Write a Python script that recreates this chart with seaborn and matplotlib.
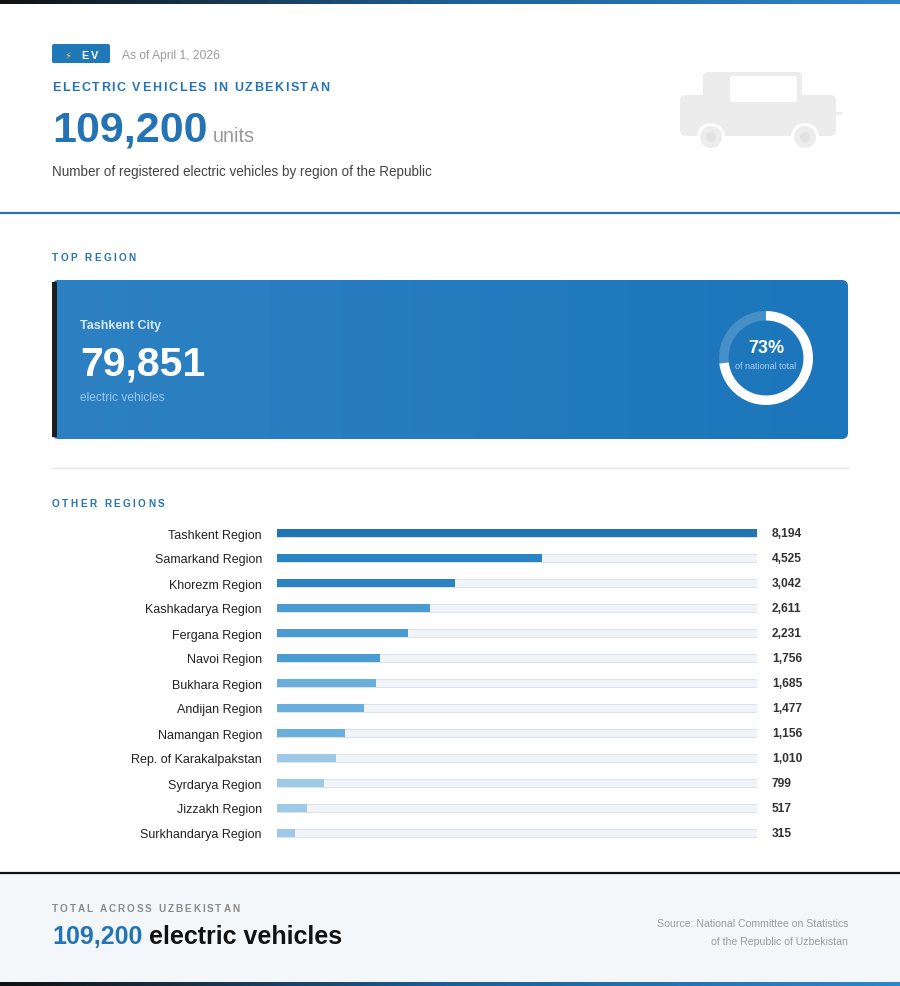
import numpy as np
import pandas as pd
import matplotlib
matplotlib.use('agg')
import matplotlib.pyplot as plt
import seaborn as sns
from matplotlib.patches import FancyBboxPatch, Rectangle, Circle
from matplotlib.colors import LinearSegmentedColormap

# data
regions = ['Tashkent Region', 'Samarkand Region', 'Khorezm Region', 'Kashkadarya Region',
           'Fergana Region', 'Navoi Region', 'Bukhara Region', 'Andijan Region',
           'Namangan Region', 'Rep. of Karakalpakstan', 'Syrdarya Region',
           'Jizzakh Region', 'Surkhandarya Region']
vehicles = [8194, 4525, 3042, 2611, 2231, 1756, 1685, 1477, 1156, 1010, 799, 517, 315]
bar_colors = ['#1f74b4', '#2a84c3', '#2a84c3', '#4a9bd1', '#4a9bd1', '#4a9bd1',
              '#6aaedc', '#6aaedc', '#6aaedc', '#9fcae7', '#9fcae7', '#9fcae7', '#9fcae7']
top_region = 'Tashkent City'
top_value = 79851
total = 109200

BLUE = '#2474b5'

sns.set_theme(style='white')
plt.rcParams['font.family'] = ['Liberation Sans', 'DejaVu Sans']

W, H = 900, 987
fig = plt.figure(figsize=(W / 100, H / 100), dpi=100)
fig.patch.set_facecolor('white')

bg = fig.add_axes([0, 0, 1, 1], zorder=0)
bg.set_xlim(0, W)
bg.set_ylim(H, 0)
bg.axis('off')

renderer = fig.canvas.get_renderer()


def px(v):
    return v * 0.72


def spaced(x, y, s, spacing, **kw):
    # letter-spaced caps, one glyph at a time
    for ch in s:
        t = bg.text(x, y, ch, ha='left', **kw)
        x += t.get_window_extent(renderer).width + spacing
    return x


def text_w(x, y, s, **kw):
    t = bg.text(x, y, s, ha='left', **kw)
    return x + t.get_window_extent(renderer).width


# top / bottom gradient strips
grad = LinearSegmentedColormap.from_list('g', ['#111111', '#1e5f94', '#2f86c8'])
strip = np.linspace(0, 1, 256).reshape(1, -1)
bg.imshow(strip, cmap=grad, extent=[0, W, 4.5, 0], aspect='auto', zorder=1,
          interpolation='bilinear')
bg.imshow(strip, cmap=grad, extent=[0, W, H, H - 4.5], aspect='auto', zorder=1,
          interpolation='bilinear')

# header
bg.add_patch(FancyBboxPatch((52, 45), 58, 19, boxstyle='round,pad=0,rounding_size=2',
                            fc='#1f78b8', ec='none', zorder=2))
bg.text(64, 56, '⚡', color='#f2c94c', fontsize=px(10), va='center', zorder=3,
        family=['DejaVu Sans'])
spaced(81, 56, 'EV', 2.5, color='white', fontsize=px(11), fontweight='bold', va='center', zorder=3)
bg.text(122, 56, 'As of April 1, 2026', color='#9a9a9a', fontsize=px(12), va='center')

spaced(52, 88, 'ELECTRIC VEHICLES IN UZBEKISTAN', 1.6, color=BLUE, fontsize=px(12.5),
       fontweight='bold', va='center')
end = text_w(52, 142, f'{total:,}', color=BLUE, fontsize=px(43), fontweight='bold',
             va='baseline')
bg.text(end + 5, 142, 'units', color='#9a9a9a', fontsize=px(20), va='baseline')
bg.text(52, 172, 'Number of registered electric vehicles by region of the Republic',
        color='#444444', fontsize=px(13.5), va='center')

# car icon
CAR = '#ececec'
bg.add_patch(FancyBboxPatch((680, 96), 156, 41, boxstyle='round,pad=0,rounding_size=6',
                            fc=CAR, ec='none', zorder=2))
bg.add_patch(FancyBboxPatch((703, 73), 99, 30, boxstyle='round,pad=0,rounding_size=4',
                            fc=CAR, ec='none', zorder=2))
bg.add_patch(FancyBboxPatch((730, 77), 67, 26, boxstyle='round,pad=0,rounding_size=3',
                            fc='white', ec='none', zorder=3))
bg.add_patch(Rectangle((836, 113), 6, 3, fc=CAR, ec='none', zorder=2))
for cx in (711, 805):
    bg.add_patch(Circle((cx, 138), 14, fc='white', ec='none', zorder=3))
    bg.add_patch(Circle((cx, 138), 11, fc=CAR, ec='none', zorder=4))
    bg.add_patch(Circle((cx, 138), 5, fc='#e2e2e2', ec='none', zorder=5))

# blue divider
bg.plot([0, W], [214, 214], color='#2474b5', lw=1.6, zorder=2)

# top region card
spaced(52, 258, 'TOP REGION', 2.4, color=BLUE, fontsize=px(10), fontweight='bold', va='center')
card = FancyBboxPatch((52, 281), 796, 159, boxstyle='round,pad=0,rounding_size=7',
                      fc='#1f78bd', ec='none', zorder=2)
bg.add_patch(card)
cgrad = LinearSegmentedColormap.from_list('c', ['#2d81c2', '#1c76bb'])
im = bg.imshow(strip, cmap=cgrad, extent=[52, 848, 440, 281], aspect='auto', zorder=2,
               interpolation='bilinear')
im.set_clip_path(card)
bg.add_patch(Rectangle((52, 283), 4.5, 155, fc='#1e1e1e', ec='none', zorder=3))
bg.text(80, 326, top_region, color='#dbe9f6', fontsize=px(12.5), fontweight='bold',
        va='center', zorder=4)
bg.text(80, 375, f'{top_value:,}', color='white', fontsize=px(41), fontweight='bold',
        va='baseline', zorder=4)
bg.text(80, 398, 'electric vehicles', color='#9dc6ea', fontsize=px(12), va='center', zorder=4)

# donut
dax = fig.add_axes([(766 - 50) / W, (H - 359 - 50) / H, 100 / W, 100 / H], zorder=3)
dax.pie([top_value, total - top_value], radius=47, startangle=90, counterclock=False,
        colors=['white', (1, 1, 1, 0.18)], wedgeprops=dict(width=9.5, linewidth=0))
dax.set_xlim(-50, 50)
dax.set_ylim(-50, 50)
dax.set_aspect('equal')
dax.axis('off')
dax.text(0, 10, f'{round(top_value / total * 100)}%', color='white', fontsize=px(18),
         fontweight='bold', ha='center', va='center')
dax.text(0, -8, 'of national total', color='#a9cdee', fontsize=px(9), ha='center', va='center')

# grey divider
bg.plot([52, 848], [469, 469], color='#e3e3e3', lw=1, zorder=2)
spaced(52, 504, 'OTHER REGIONS', 2.4, color=BLUE, fontsize=px(10), fontweight='bold', va='center')

# bars
df = pd.DataFrame({'region': regions, 'vehicles': vehicles})
df['track'] = max(vehicles)
row = 25
bax = fig.add_axes([277 / W, (H - 846.5) / H, 480 / W, 13 * row / H], zorder=2)
bax.patch.set_alpha(0)
sns.barplot(data=df, x='track', y='region', color='#f1f4f8', edgecolor='#dde3ea',
            linewidth=0.8, width=0.34, saturation=1, ax=bax, orient='h')
sns.barplot(data=df, x='vehicles', y='region', hue='region', palette=bar_colors,
            legend=False, width=0.30, linewidth=0, saturation=1, ax=bax, orient='h')
bax.set_xlim(0, max(vehicles))
bax.set_ylim(len(regions) - 0.5, -0.5)
bax.set_xlabel('')
bax.set_ylabel('')
bax.set_xticks([])
bax.tick_params(axis='y', length=0, pad=px(15), labelsize=px(12.5), labelcolor='#222222')
for s in bax.spines.values():
    s.set_visible(False)
for i, v in enumerate(vehicles):
    bax.annotate(f'{v:,}', xy=(max(vehicles), i), xytext=(px(15), 0), textcoords='offset points',
                 ha='left', va='center', fontsize=px(12), fontweight='bold', color='#333333')

# footer
bg.add_patch(Rectangle((0, 874), W, H - 4 - 874, fc='#f4f7fa', ec='none', zorder=1))
bg.plot([0, W], [874, 874], color='#111111', lw=1.6, zorder=2)
spaced(52, 909, 'TOTAL ACROSS UZBEKISTAN', 1.9, color='#8a8a8a', fontsize=px(10),
       fontweight='bold', va='center', zorder=3)
e = text_w(52, 944, f'{total:,}', color=BLUE, fontsize=px(25), fontweight='bold',
           va='baseline', zorder=3)
text_w(e, 944, ' electric vehicles', color='#111111', fontsize=px(25), fontweight='bold',
       va='baseline', zorder=3)
bg.text(848, 924, 'Source: National Committee on Statistics', color='#9a9a9a',
        fontsize=px(10.5), ha='right', va='center', zorder=3)
bg.text(848, 942, 'of the Republic of Uzbekistan', color='#9a9a9a',
        fontsize=px(10.5), ha='right', va='center', zorder=3)

fig.savefig('out.png', dpi=100, facecolor='white')
